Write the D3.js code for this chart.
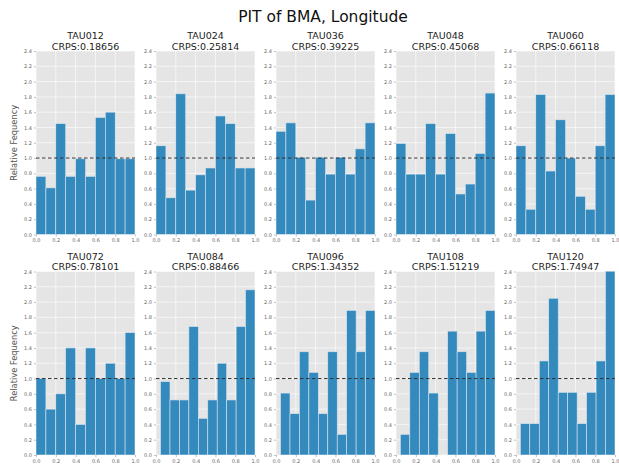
<!DOCTYPE html>
<html>
<head>
<meta charset="utf-8">
<script src="https://cdn.jsdelivr.net/npm/d3@7/dist/d3.min.js"></script>
<style>
  html, body { margin: 0; padding: 0; background: #fff; }
  svg { display: block; font-family: "DejaVu Sans", sans-serif; }
</style>
</head>
<body>
<svg id="chart" width="619" height="464"></svg>
<script>
// Lead-time panels and their scores
const leadTimes = ["TAU012", "TAU024", "TAU036", "TAU048", "TAU060",
                   "TAU072", "TAU084", "TAU096", "TAU108", "TAU120"];
const crps = ["0.18656", "0.25814", "0.39225", "0.45068", "0.66118",
              "0.78101", "0.88466", "1.34352", "1.51219", "1.74947"];

// Relative frequency of each of the 10 PIT bins, per lead time
const tau012 = [0.76, 0.61, 1.45, 0.76, 0.99, 0.76, 1.53, 1.60, 0.99, 0.99];
const tau024 = [1.16, 0.48, 1.84, 0.58, 0.78, 0.87, 1.55, 1.45, 0.87, 0.87];
const tau036 = [1.35, 1.46, 1.01, 0.45, 1.01, 0.79, 1.01, 0.79, 1.12, 1.46];
const tau048 = [1.19, 0.79, 0.79, 1.45, 0.79, 1.32, 0.53, 0.66, 1.06, 1.85];
const tau060 = [1.16, 0.33, 1.83, 0.83, 1.50, 1.00, 0.50, 0.33, 1.16, 1.83];
const tau072 = [1.00, 0.60, 0.80, 1.40, 0.40, 1.40, 1.00, 1.20, 1.00, 1.60];
const tau084 = [0.96, 0.72, 0.72, 1.68, 0.48, 0.72, 1.20, 0.72, 1.68, 2.16];
const tau096 = [0.81, 0.54, 1.35, 1.08, 0.54, 1.35, 0.27, 1.89, 1.35, 1.89];
const tau108 = [0.27, 1.08, 1.35, 0.81, 0.00, 1.62, 1.35, 1.08, 1.62, 1.89];
const tau120 = [0.41, 0.41, 1.23, 2.05, 0.82, 0.82, 0.41, 0.82, 1.23, 2.46];
const series = [tau012, tau024, tau036, tau048, tau060,
                tau072, tau084, tau096, tau108, tau120];

// Lowest PIT value of each sample: the bins span [binStart, 1]
const binStart = [0, 0, 0, 0, 0, 0, 0.046, 0.046, 0.044, 0.044];

const xTicks = [0, 0.2, 0.4, 0.6, 0.8, 1.0];
const yTicks = [0, 0.2, 0.4, 0.6, 0.8, 1.0, 1.2, 1.4, 1.6, 1.8, 2.0, 2.2, 2.4];
const title = "PIT of BMA, Longitude";
const yLabel = "Relative Fequency";

const svg = d3.select("#chart");
const panelW = 99, panelH = 183.5;
const colStep = 120, left0 = 36;
const rowTops = [51, 271.5];

svg.append("text")
  .attr("x", 323).attr("y", 22)
  .attr("text-anchor", "middle")
  .attr("font-size", 15.5)
  .attr("fill", "#111")
  .text(title);

const x = d3.scaleLinear().domain([0, 1]).range([0, panelW]);
const y = d3.scaleLinear().domain([0, 2.4]).range([panelH, 0]);

series.forEach((vals, i) => {
  const row = Math.floor(i / 5), col = i % 5;
  const g = svg.append("g")
    .attr("transform", `translate(${left0 + col * colStep},${rowTops[row]})`);

  const clipId = "clip" + i;
  g.append("clipPath").attr("id", clipId)
    .append("rect").attr("width", panelW).attr("height", panelH);

  g.append("rect")
    .attr("width", panelW).attr("height", panelH)
    .attr("fill", "#E5E5E5");

  // white grid
  g.append("g").selectAll("line.h").data(yTicks).join("line")
    .attr("x1", 0).attr("x2", panelW)
    .attr("y1", d => y(d)).attr("y2", d => y(d))
    .attr("stroke", "#fff").attr("stroke-width", 0.6);
  g.append("g").selectAll("line.v").data(xTicks).join("line")
    .attr("y1", 0).attr("y2", panelH)
    .attr("x1", d => x(d)).attr("x2", d => x(d))
    .attr("stroke", "#fff").attr("stroke-width", 0.6);

  // histogram bars
  const w = (1 - binStart[i]) / vals.length;
  const bins = vals.map((v, k) => ({ x0: binStart[i] + k * w, x1: binStart[i] + (k + 1) * w, v }));
  g.append("g").attr("clip-path", `url(#${clipId})`)
    .selectAll("rect").data(bins.filter(b => b.v > 0)).join("rect")
    .attr("x", d => x(d.x0))
    .attr("width", d => x(d.x1) - x(d.x0))
    .attr("y", d => y(d.v))
    .attr("height", d => y(0) - y(d.v))
    .attr("fill", "#348ABD")
    .attr("stroke", "#D8E4EE")
    .attr("stroke-width", 0.6);

  // uniform reference line
  g.append("line")
    .attr("x1", 0).attr("x2", panelW)
    .attr("y1", y(1)).attr("y2", y(1))
    .attr("stroke", "#333").attr("stroke-width", 1)
    .attr("stroke-dasharray", "3.5,2.5");

  // axes
  const xAxis = d3.axisBottom(x).tickValues(xTicks).tickFormat(d3.format(".1f"))
    .tickSize(2).tickPadding(2);
  const yAxis = d3.axisLeft(y).tickValues(yTicks).tickFormat(d3.format(".1f"))
    .tickSize(2).tickPadding(2);
  const gx = g.append("g").attr("transform", `translate(0,${panelH})`).call(xAxis);
  const gy = g.append("g").call(yAxis);
  [gx, gy].forEach(a => {
    a.select(".domain").remove();
    a.selectAll(".tick line").attr("stroke", "#999").attr("stroke-width", 0.6);
    a.selectAll(".tick text").attr("fill", "#666").attr("font-size", 5)
      .attr("font-family", "DejaVu Sans, sans-serif");
  });

  // panel titles
  g.append("text")
    .attr("x", panelW / 2).attr("y", -12)
    .attr("text-anchor", "middle").attr("font-size", 9.5).attr("fill", "#222")
    .text(leadTimes[i]);
  g.append("text")
    .attr("x", panelW / 2).attr("y", -1.5)
    .attr("text-anchor", "middle").attr("font-size", 9.5).attr("fill", "#222")
    .text("CRPS:" + crps[i]);

  if (col === 0) {
    g.append("text")
      .attr("transform", `translate(-19,${panelH / 2}) rotate(-90)`)
      .attr("text-anchor", "middle").attr("font-size", 8.3).attr("fill", "#555")
      .text(yLabel);
  }
});
</script>
</body>
</html>
